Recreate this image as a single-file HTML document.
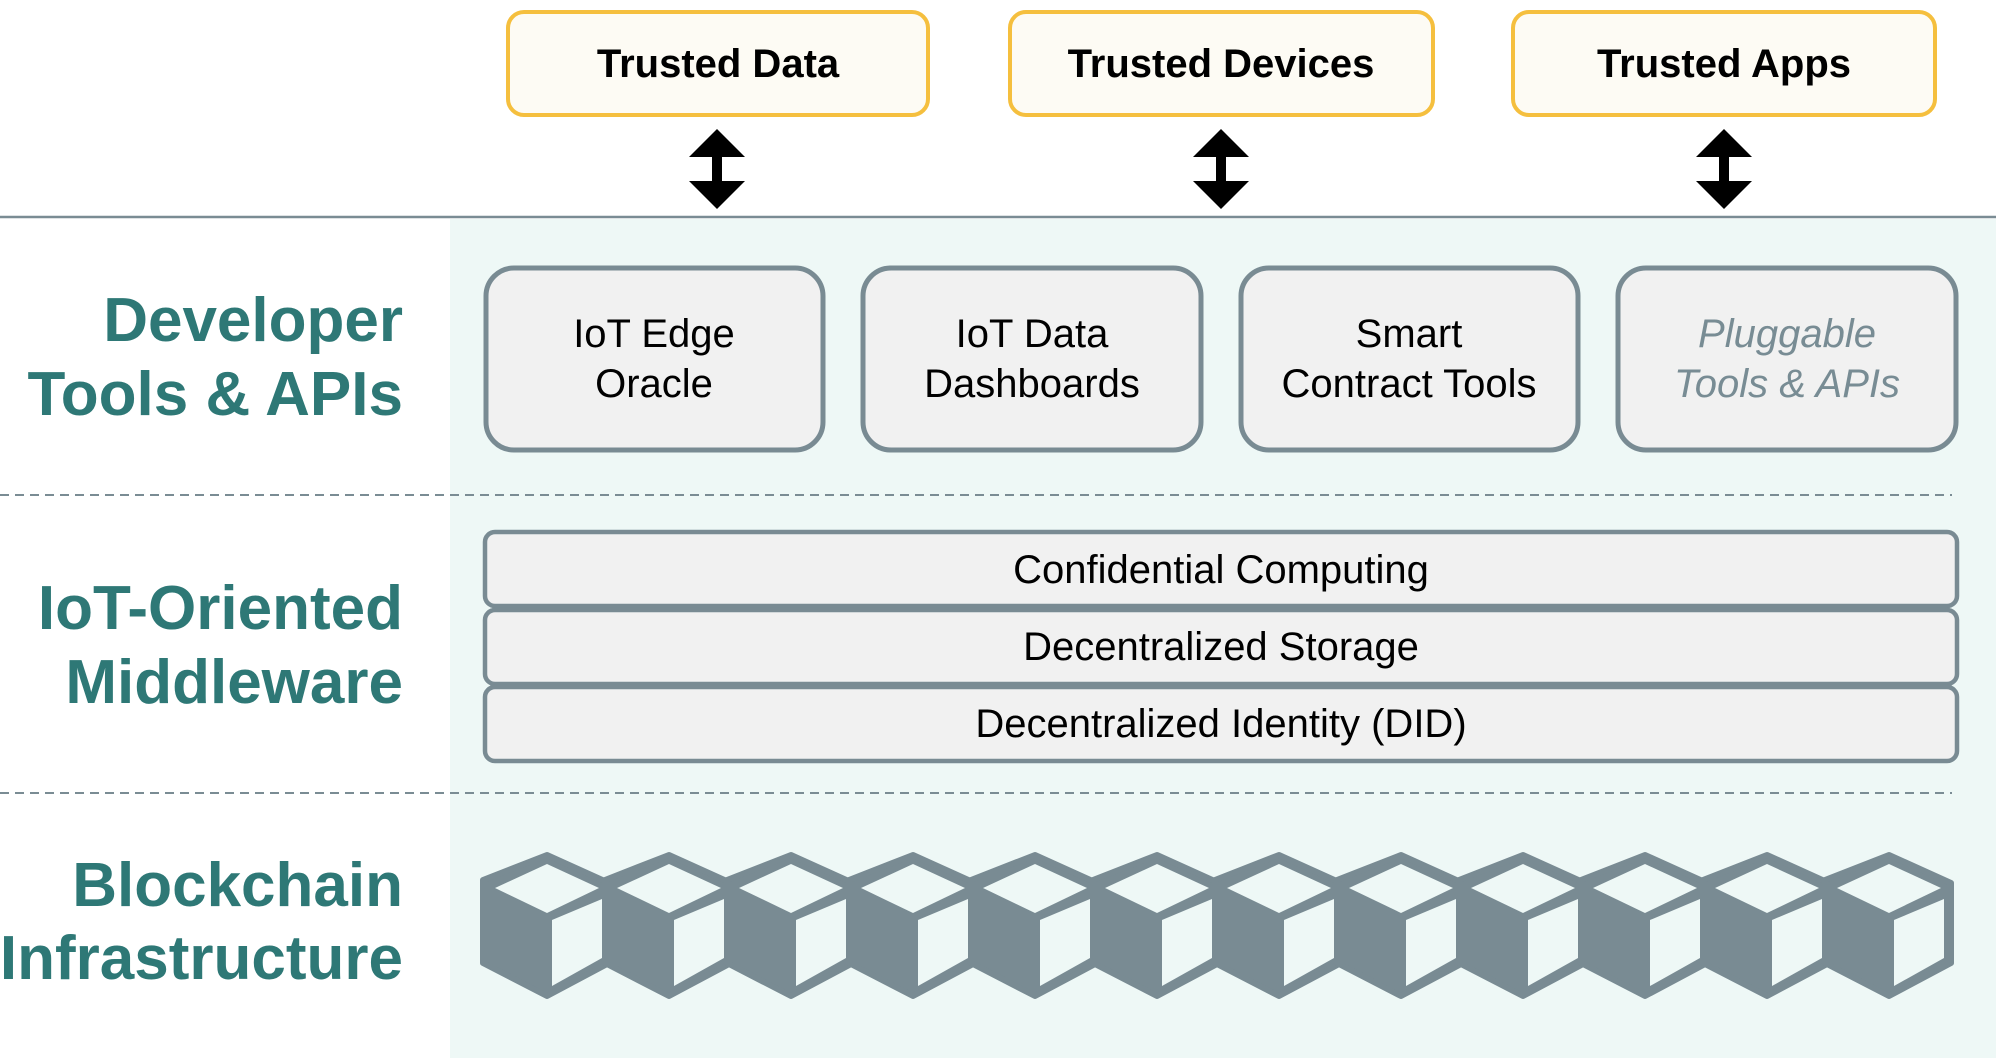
<!DOCTYPE html>
<html><head><meta charset="utf-8"><style>
html,body{margin:0;padding:0;background:#fff;}
svg{display:block;}
text{font-family:"Liberation Sans",Arial,sans-serif;}
</style></head><body>
<svg width="2000" height="1058" viewBox="0 0 2000 1058" xmlns="http://www.w3.org/2000/svg">
<defs>
<g id="cube">
<path d="M0,0 L62,28 L62,108 L0,141 L-64,108 L-64,25 Z" fill="#798b93" stroke="#798b93" stroke-width="6" stroke-linejoin="round"/>
<path d="M-52,33 L0,9 L52,33 L0,58 Z" fill="#eef8f6"/>
<path d="M5,65 L55,44 L55,103 L5,131 Z" fill="#eef8f6"/>
</g>
<g id="arrow">
<path d="M0,0 L28,28 L5,28 L5,52 L28,52 L0,80 L-28,52 L-5,52 L-5,28 L-28,28 Z" fill="#000"/>
</g>
</defs>
<rect x="450" y="219" width="1546" height="839" fill="#eef8f6"/>
<line x1="0" y1="217" x2="1996" y2="217" stroke="#7a8c94" stroke-width="2.5"/>
<line x1="0" y1="495" x2="1952" y2="495" stroke="#7a8c94" stroke-width="2" stroke-dasharray="9,6"/>
<line x1="0" y1="793" x2="1952" y2="793" stroke="#7a8c94" stroke-width="2" stroke-dasharray="9,6"/>

<g fill="#fdfbf4" stroke="#f5bf3e" stroke-width="4">
<rect x="508" y="12" width="420" height="103" rx="16"/>
<rect x="1010" y="12" width="423" height="103" rx="16"/>
<rect x="1513" y="12" width="422" height="103" rx="16"/>
</g>
<g font-size="40" font-weight="bold" text-anchor="middle" fill="#000">
<text x="718" y="77">Trusted Data</text>
<text x="1221" y="77">Trusted Devices</text>
<text x="1724" y="77">Trusted Apps</text>
</g>
<use href="#arrow" x="717" y="129"/>
<use href="#arrow" x="1221" y="129"/>
<use href="#arrow" x="1724" y="129"/>

<g font-size="62" font-weight="bold" text-anchor="end" fill="#2e7876">
<text x="403" y="341">Developer</text>
<text x="403" y="415">Tools &amp; APIs</text>
<text x="403" y="629">IoT-Oriented</text>
<text x="403" y="703">Middleware</text>
<text x="403" y="906">Blockchain</text>
<text x="403" y="979">Infrastructure</text>
</g>

<g fill="#f1f1f1" stroke="#798b93" stroke-width="5">
<rect x="486" y="268" width="337" height="182" rx="28"/>
<rect x="863" y="268" width="338" height="182" rx="28"/>
<rect x="1241" y="268" width="337" height="182" rx="28"/>
<rect x="1618" y="268" width="338" height="182" rx="28"/>
</g>
<g font-size="40" text-anchor="middle" fill="#000">
<text x="654" y="347">IoT Edge</text><text x="654" y="397">Oracle</text>
<text x="1032" y="347">IoT Data</text><text x="1032" y="397">Dashboards</text>
<text x="1409" y="347">Smart</text><text x="1409" y="397">Contract Tools</text>
</g>
<g font-size="40" text-anchor="middle" fill="#788c94" font-style="italic">
<text x="1787" y="347">Pluggable</text><text x="1787" y="397">Tools &amp; APIs</text>
</g>

<g fill="#f1f1f1" stroke="#798b93" stroke-width="4.5">
<rect x="485" y="532" width="1472" height="74" rx="10"/>
<rect x="485" y="610" width="1472" height="74" rx="10"/>
<rect x="485" y="687" width="1472" height="74" rx="10"/>
</g>
<g font-size="40" text-anchor="middle" fill="#000">
<text x="1221" y="583">Confidential Computing</text>
<text x="1221" y="660">Decentralized Storage</text>
<text x="1221" y="737">Decentralized Identity (DID)</text>
</g>

<use href="#cube" x="547" y="855"/>
<use href="#cube" x="669" y="855"/>
<use href="#cube" x="791" y="855"/>
<use href="#cube" x="913" y="855"/>
<use href="#cube" x="1035" y="855"/>
<use href="#cube" x="1157" y="855"/>
<use href="#cube" x="1279" y="855"/>
<use href="#cube" x="1401" y="855"/>
<use href="#cube" x="1523" y="855"/>
<use href="#cube" x="1645" y="855"/>
<use href="#cube" x="1767" y="855"/>
<use href="#cube" x="1889" y="855"/>
</svg>
</body></html>
